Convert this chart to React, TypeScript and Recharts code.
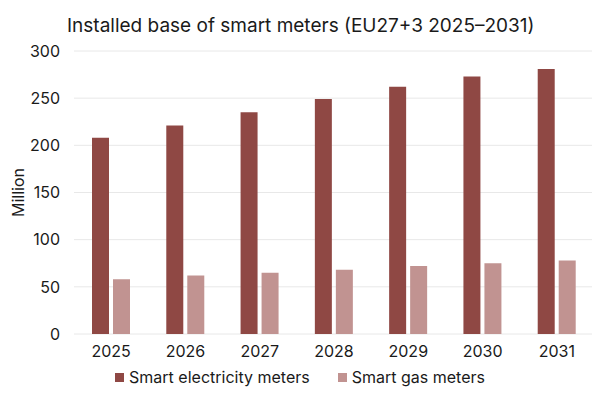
import React from 'react';
import { BarChart, Bar, XAxis, YAxis, CartesianGrid } from 'recharts';

const years = ['2025', '2026', '2027', '2028', '2029', '2030', '2031'];
const electricity = [208, 221, 235, 249, 262, 273, 281];
const gas = [58, 62, 65, 68, 72, 75, 78];
const yTicks = [0, 50, 100, 150, 200, 250, 300];

const seriesNames = ['Smart electricity meters', 'Smart gas meters'];
const seriesColors = ['#8f4844', '#c19391'];

const data = years.map((y, i) => ({ year: y, electricity: electricity[i], gas: gas[i] }));

const FONT = 'Inter, "Noto Sans", sans-serif';
const TEXT = '#1a1a1a';

const YLabel = (props: any) => {
  const vb = props.viewBox || { x: 0, y: 0, width: 0, height: 0 };
  const cx = vb.x + 18;
  const cy = vb.y + vb.height / 2;
  return (
    <text
      x={cx}
      y={cy}
      transform={`rotate(-90 ${cx} ${cy})`}
      textAnchor="middle"
      dominantBaseline="central"
      fontFamily={FONT}
      fontSize={16}
      fill={TEXT}
    >
      Million
    </text>
  );
};

export default function App() {
  return (
    <div style={{ position: 'relative', width: 600, height: 400, margin: -8, background: '#fff', fontFamily: FONT }}>
      <div
        style={{
          position: 'absolute',
          left: 67,
          top: 16,
          fontSize: 19,
          lineHeight: '19px',
          color: TEXT,
          whiteSpace: 'nowrap',
        }}
      >
        Installed base of smart meters (EU27+3 2025–2031)
      </div>
      <BarChart
        width={600}
        height={400}
        data={data}
        margin={{ top: 51, right: 6, left: 0, bottom: 36 }}
        barGap={4}
        barSize={17}
      >
        <CartesianGrid vertical={false} stroke="#e8e8e8" strokeWidth={1} />
        <XAxis
          dataKey="year"
          height={30}
          axisLine={false}
          tickLine={false}
          tickMargin={6}
          tick={{ fontFamily: FONT, fontSize: 16, fill: TEXT }}
        />
        <YAxis
          width={74}
          domain={[0, 300]}
          ticks={yTicks}
          axisLine={false}
          tickLine={false}
          tickMargin={8}
          tick={{ fontFamily: FONT, fontSize: 16, fill: TEXT }}
          label={<YLabel />}
        />
        <Bar dataKey="electricity" name={seriesNames[0]} fill={seriesColors[0]} isAnimationActive={false} />
        <Bar dataKey="gas" name={seriesNames[1]} fill={seriesColors[1]} isAnimationActive={false} />
      </BarChart>
      <div
        style={{
          position: 'absolute',
          left: 0,
          width: 600,
          top: 368,
          display: 'flex',
          justifyContent: 'center',
          alignItems: 'center',
          fontSize: 16,
          lineHeight: '18px',
          color: TEXT,
        }}
      >
        {seriesNames.map((n, i) => (
          <div key={n} style={{ display: 'flex', alignItems: 'center', marginLeft: i === 0 ? 0 : 28 }}>
            <span style={{ display: 'inline-block', width: 9, height: 9, background: seriesColors[i], marginRight: 5 }} />
            <span>{n}</span>
          </div>
        ))}
      </div>
    </div>
  );
}
